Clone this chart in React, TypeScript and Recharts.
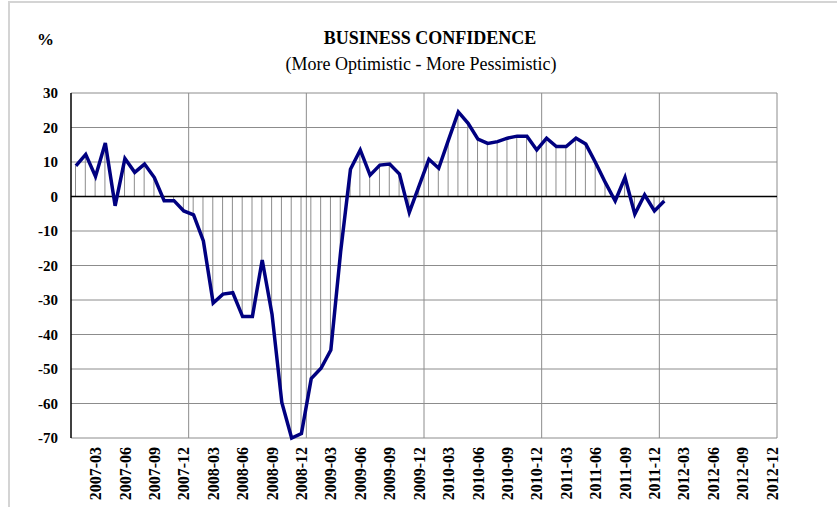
import React from "react";
import { ComposedChart, Line, Bar, XAxis, YAxis, CartesianGrid, ReferenceLine } from "recharts";

const months: string[] = [
  "2007-01","2007-02","2007-03","2007-04","2007-05","2007-06","2007-07","2007-08","2007-09","2007-10","2007-11","2007-12",
  "2008-01","2008-02","2008-03","2008-04","2008-05","2008-06","2008-07","2008-08","2008-09","2008-10","2008-11","2008-12",
  "2009-01","2009-02","2009-03","2009-04","2009-05","2009-06","2009-07","2009-08","2009-09","2009-10","2009-11","2009-12",
  "2010-01","2010-02","2010-03","2010-04","2010-05","2010-06","2010-07","2010-08","2010-09","2010-10","2010-11","2010-12",
  "2011-01","2011-02","2011-03","2011-04","2011-05","2011-06","2011-07","2011-08","2011-09","2011-10","2011-11","2011-12",
  "2012-01","2012-02","2012-03","2012-04","2012-05","2012-06","2012-07","2012-08","2012-09","2012-10","2012-11","2012-12",
];

const confidence: number[] = [
  8.9, 12.2, 5.8, 15.5, -2.7, 11.0, 7.0, 9.4, 5.5, -1.2, -1.2, -4.2,
  -5.3, -12.9, -30.9, -28.3, -27.9, -34.8, -34.8, -18.4, -34.1, -59.7, -70.0, -68.7,
  -52.8, -49.8, -44.5, -16.0, 7.9, 13.5, 6.2, 9.1, 9.4, 6.5, -4.6, 3.1,
  10.8, 8.2, 16.4, 24.5, 21.2, 16.6, 15.4, 15.9, 16.9, 17.5, 17.5, 13.5,
  16.9, 14.5, 14.5, 16.9, 15.2, 9.8, 4.0, -1.3, 5.5, -5.1, 0.5, -4.2,
  -1.3,
];

const xTickLabels: string[] = [
  "2007-03","2007-06","2007-09","2007-12","2008-03","2008-06","2008-09","2008-12",
  "2009-03","2009-06","2009-09","2009-12","2010-03","2010-06","2010-09","2010-12",
  "2011-03","2011-06","2011-09","2011-12","2012-03","2012-06","2012-09","2012-12",
];

const yTicks: number[] = [30, 20, 10, 0, -10, -20, -30, -40, -50, -60, -70];

const data = months.map((m, i) => ({
  month: m,
  value: i < confidence.length ? confidence[i] : null,
}));

const FONT = '"Liberation Serif", "Times New Roman", serif';

const XTick = (props: any) => {
  const { x, y, payload } = props;
  if (!xTickLabels.includes(payload.value)) return null;
  return (
    <text
      x={x}
      y={y}
      transform={`rotate(-90, ${x}, ${y})`}
      textAnchor="end"
      dy="0.35em"
      fontFamily={FONT}
      fontWeight="bold"
      fontSize={16}
      fill="#000"
    >
      {payload.value}
    </text>
  );
};

const YTick = (props: any) => {
  const { x, y, payload } = props;
  return (
    <text
      x={x}
      y={y}
      textAnchor="end"
      dy="0.36em"
      fontFamily={FONT}
      fontWeight="bold"
      fontSize={15}
      fill="#000"
    >
      {payload.value}
    </text>
  );
};

export default function App() {
  const years = months.length / 12;
  return (
    <div style={{ position: "absolute", left: 0, top: 0, width: 837, height: 507, background: "#fff", fontFamily: FONT }}>
      <div style={{ position: "absolute", left: 8, top: 1, width: 829, height: 506, borderLeft: "2px solid #d4d4d4", borderTop: "2px solid #d4d4d4" }} />
      <div style={{ position: "absolute", left: 37, top: 30, fontSize: 17, fontWeight: "bold" }}>%</div>
      <div style={{ position: "absolute", left: 230, width: 400, top: 28, textAlign: "center", fontSize: 18, fontWeight: "bold" }}>
        BUSINESS CONFIDENCE
      </div>
      <div style={{ position: "absolute", left: 221, width: 400, top: 54, textAlign: "center", fontSize: 18 }}>
        (More Optimistic - More Pessimistic)
      </div>
      <div style={{ position: "absolute", left: 0, top: 0 }}>
        <ComposedChart width={837} height={507} data={data} margin={{ top: 93, right: 60, bottom: 0, left: 0 }}>
          <CartesianGrid
            stroke="#8c8c8c"
            strokeWidth={1}
            verticalCoordinatesGenerator={({ offset }: any) =>
              Array.from({ length: years }, (_, k) => offset.left + (offset.width * (k + 1)) / years)
            }
          />
          <XAxis
            dataKey="month"
            interval={0}
            height={69}
            axisLine={false}
            tickLine={false}
            tickSize={0}
            tickMargin={9}
            tick={<XTick />}
          />
          <YAxis
            type="number"
            domain={[-70, 30]}
            ticks={yTicks}
            interval={0}
            width={71}
            axisLine={{ stroke: "#000", strokeWidth: 1.5 }}
            tickLine={false}
            tickSize={0}
            tickMargin={13}
            tick={<YTick />}
          />
          <Bar dataKey="value" barSize={1} fill="#8c8c8c" isAnimationActive={false} />
          <ReferenceLine y={0} stroke="#000" strokeWidth={1.5} />
          <Line
            type="linear"
            dataKey="value"
            stroke="#000080"
            strokeWidth={3.5}
            dot={false}
            activeDot={false}
            isAnimationActive={false}
            connectNulls={false}
          />
        </ComposedChart>
      </div>
    </div>
  );
}
